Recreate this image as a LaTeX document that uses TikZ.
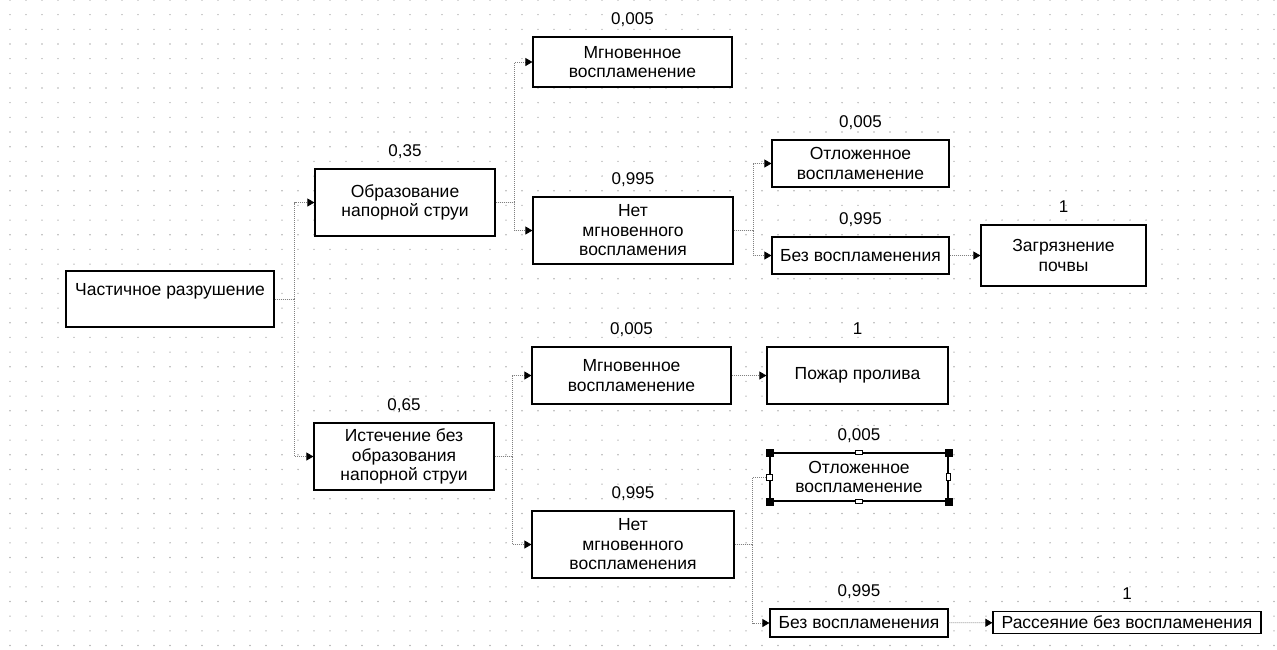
\documentclass[tikz,border=0pt]{standalone}
\usepackage{fontspec}
\setmainfont{Liberation Sans}
\usetikzlibrary{arrows.meta,positioning}
\begin{document}
\begin{tikzpicture}[x=1pt, y=-1pt,
    box/.style={draw, fill=white, line width=1.2pt, inner sep=0pt, align=center, font=\fontsize{17.5}{19.5}\selectfont},
    prob/.style={inner sep=0pt, text height=12.5pt, text depth=2.5pt, font=\fontsize{17}{19}\selectfont},
    conn/.style={gray, line width=0.8pt, dash pattern=on 1pt off 1pt, -{Triangle[length=7pt, width=8pt, color=black]}},
    handle/.style={draw=black, fill=black, minimum size=7pt, inner sep=0pt},
    mhandle/.style={draw=black, fill=white, line width=0.9pt, minimum size=6pt, inner sep=0pt}]
  \useasboundingbox (0,0) rectangle (1277,649);
  \foreach \i in {0,...,79}
    \foreach \j in {0,...,44}
      \fill[gray!60] (10+16*\i, 14.67*\j) circle (0.8pt);
  \node[box, minimum width=208pt, minimum height=56pt] (crash) at (170,299) {Частичное разрушение\\\mbox{}};
  \node[box, minimum width=180pt, minimum height=67pt] (jet) at (405,202.5) {Образование\\напорной струи};
  \node[box, minimum width=180pt, minimum height=67pt] (leak) at (404,456.5) {Истечение без\\образования\\напорной струи};
  \node[box, minimum width=199pt, minimum height=50pt] (instA) at (632.5,62) {Мгновенное\\воспламенение};
  \node[box, minimum width=200pt, minimum height=67pt] (noinstA) at (633,230.5) {Нет\\мгновенного\\воспламения};
  \node[box, minimum width=199pt, minimum height=57pt] (instB) at (631.5,375.5) {Мгновенное\\воспламенение};
  \node[box, minimum width=202pt, minimum height=67pt] (noinstB) at (633,544.5) {Нет\\мгновенного\\воспламенения};
  \node[box, minimum width=177pt, minimum height=47pt] (delayA) at (860.5,163.5) {Отложенное\\воспламенение};
  \node[box, minimum width=177pt, minimum height=37pt] (noignA) at (860.5,255.5) {Без воспламенения};
  \node[box, minimum width=165pt, minimum height=61pt] (soil) at (1063.5,255.5) {Загрязнение\\почвы};
  \node[box, minimum width=181pt, minimum height=57pt] (pool) at (857.5,375.5) {Пожар пролива};
  \node[box, minimum width=178pt, minimum height=48pt] (delayB) at (859,477) {Отложенное\\воспламенение};
  \node[box, minimum width=178pt, minimum height=28pt] (noignB) at (859,623) {Без воспламенения};
  \node[box, minimum width=268pt, minimum height=22pt] (disp) at (1127,622.5) {Рассеяние без воспламенения};
  \node[prob, above=9pt of jet] (pjet) {0,35};
  \node[prob, above=9pt of leak] (pleak) {0,65};
  \node[prob, above=9pt of instA] (pinstA) {0,005};
  \node[prob, above=9pt of noinstA] (pnoinstA) {0,995};
  \node[prob, above=9pt of instB] (pinstB) {0,005};
  \node[prob, above=9pt of noinstB] (pnoinstB) {0,995};
  \node[prob, above=9pt of delayA] (pdelayA) {0,005};
  \node[prob, above=9pt of noignA] (pnoignA) {0,995};
  \node[prob, above=9pt of soil] (psoil) {1};
  \node[prob, above=9pt of pool] (ppool) {1};
  \node[prob, above=9pt of delayB] (pdelayB) {0,005};
  \node[prob, above=9pt of noignB] (pnoignB) {0,995};
  \node[prob, above=9pt of disp] (pdisp) {1};
  \draw[conn] (crash.east) -- ++(20,0) |- (jet.west);
  \draw[conn] (crash.east) -- ++(20,0) |- (leak.west);
  \draw[conn] (jet.east) -- ++(19,0) |- (instA.west);
  \draw[conn] (jet.east) -- ++(19,0) |- (noinstA.west);
  \draw[conn] (noinstA.east) -- ++(20,0) |- (delayA.west);
  \draw[conn] (noinstA.east) -- ++(20,0) |- (noignA.west);
  \draw[conn] (noignA) -- (soil);
  \draw[conn] (leak.east) -- ++(18,0) |- (instB.west);
  \draw[conn] (leak.east) -- ++(18,0) |- (noinstB.west);
  \draw[conn] (instB) -- (pool);
  \draw[conn, -] (noinstB.east) -- ++(18,0) |- (delayB.west);
  \draw[conn] (noinstB.east) -- ++(18,0) |- (noignB.west);
  \draw[conn] (noignB) -- (disp);
  \node[handle] (hnw) at (delayB.north west) {};
  \node[handle] (hne) at (delayB.north east) {};
  \node[handle] (hsw) at (delayB.south west) {};
  \node[handle] (hse) at (delayB.south east) {};
  \node[mhandle, minimum height=4pt, minimum width=7pt] (hn) at (delayB.north) {};
  \node[mhandle, minimum height=4pt, minimum width=7pt] (hs) at (delayB.south) {};
  \node[mhandle, minimum width=4pt, minimum height=7pt] (he) at (delayB.east) {};
  \node[mhandle] (hw) at (delayB.west) {};
\end{tikzpicture}
\end{document}
